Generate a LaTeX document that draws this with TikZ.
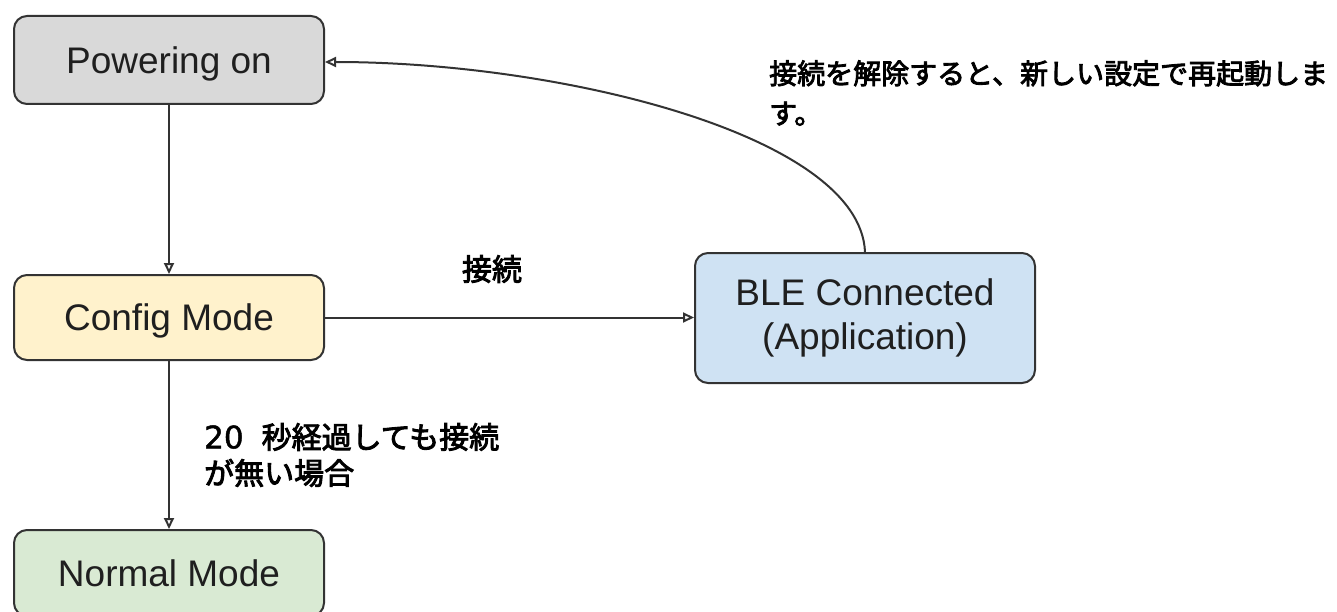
\documentclass[tikz,border=0pt]{standalone}
\usepackage{fontspec}
\setmainfont{Liberation Sans}
\newfontfamily\cjk{Noto Sans CJK JP}[FakeBold=3]
\newfontfamily\digits{DejaVu Sans}[FakeBold=1.5]
\usetikzlibrary{arrows.meta}
\definecolor{edge}{HTML}{333333}
\definecolor{cgray}{HTML}{D9D9D9}
\definecolor{cyellow}{HTML}{FFF2CC}
\definecolor{cgreen}{HTML}{D9EAD3}
\definecolor{cblue}{HTML}{CFE2F3}
\tikzset{
  state/.style={draw=edge, line width=2pt, rounded corners=13pt, inner sep=0pt,
    text=black!88, font=\fontsize{37}{44}\selectfont, align=center},
  conn/.style={draw=edge, line width=2pt,
    -{Triangle[open,length=11pt,width=10pt,fill=white]}},
  lbl/.style={inner sep=0pt, text=black, align=left},
}
\begin{document}
\begin{tikzpicture}[x=1pt,y=-1pt]
\useasboundingbox (0,0) rectangle (1337,612);
\node[state, fill=cgray, minimum width=310pt, minimum height=88pt, text depth=0pt] (pow) at (169,60) {Powering on};
\node[state, fill=cyellow, minimum width=310pt, minimum height=85pt, text depth=0pt] (cfg) at (169,317.5) {Config Mode};
\node[state, fill=cgreen, minimum width=310pt, minimum height=86pt, text depth=0pt] (nrm) at (169,573) {Normal Mode};
\node[state, fill=cblue, minimum width=340pt, minimum height=130pt] (ble) at (865,318) {BLE Connected\\(Application)};
\draw[conn] (pow.south) -- (cfg.north);
\draw[conn] (cfg.south) -- (nrm.north);
\draw[conn] (cfg.east) -- (cfg.east -| ble.west);
\draw[conn] (ble.north) .. controls (860,135) and (560,62) .. (pow.east |- 0,62);
\node[lbl, anchor=west, font=\cjk\fontsize{28}{40}\selectfont] (t1) at (769,93) {接続を解除すると、新しい設定で再起動しま\\す。};
\node[lbl, font=\cjk\fontsize{30}{36}\selectfont] (t2) at (492,269) {接続};
\node[lbl, anchor=west, font=\cjk\fontsize{30}{36}\selectfont] (t3) at (204,455) {{\digits\fontsize{31}{36}\selectfont 20}\hspace{18pt}秒経過しても接続\\が無い場合};
\end{tikzpicture}
\end{document}
